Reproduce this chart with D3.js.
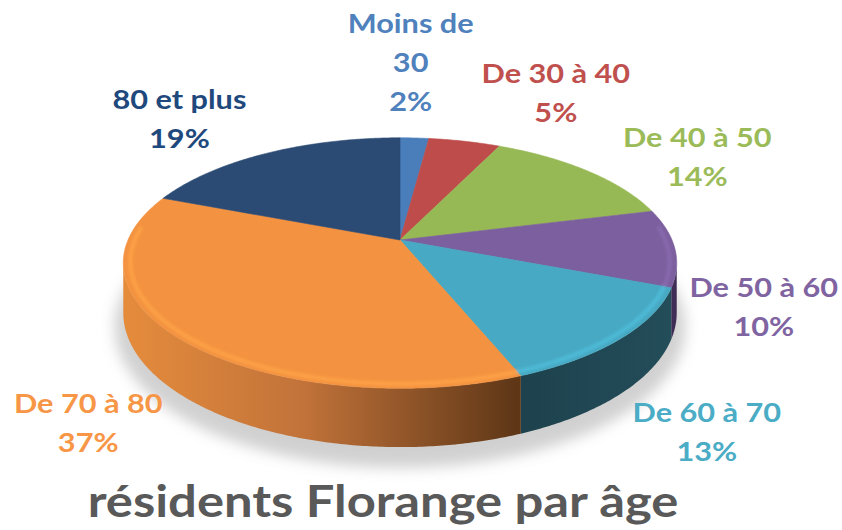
<!DOCTYPE html>
<html>
<head>
<meta charset="utf-8">
<script src="https://cdn.jsdelivr.net/npm/d3@7"></script>
<style>
  body { margin: 0; background: #fff; }
  svg { display: block; }
  .lbl { font-family: Lato, "Open Sans", sans-serif; font-weight: 700; font-size: 26px; }
  .title { font-family: Lato, "Open Sans", sans-serif; font-weight: 700; font-size: 43px; fill: #595959; }
</style>
</head>
<body>
<svg id="MyGraph" width="842" height="530"></svg>
<script>
// données
var categories = ["Moins de 30", "De 30 à 40", "De 40 à 50", "De 50 à 60", "De 60 à 70", "De 70 à 80", "80 et plus"];
var values = [2, 5, 14, 10, 13, 37, 19];
var topColors = ["#4a7ebb", "#bd4c4a", "#97b955", "#7c5f9e", "#47a9c3", "#f39240", "#2b4b74"];
var sideColors = ["#2f5580", "#7d2f2d", "#61793a", "#3f2d55", "#1f4552", "#c97a36", "#1b3150"];
var labelColors = ["#4f81bd", "#c0504d", "#9bbb59", "#8064a2", "#4bacc6", "#f79646", "#1f497d"];
var title = "résidents Florange par âge";

var svg = d3.select("#MyGraph");
var defs = svg.append("defs");

// géométrie du camembert 3D (perspective)
var cx = 400, cy = 240, A = 272, B = 121, k = 0.184, depth = 48;
var sx = 1.18; // étirement horizontal du texte

function proj(theta, r, z) {
  var a = r * Math.sin(theta), b = -r * Math.cos(theta);
  var d = 1 - k * b;
  return [cx + A * a / d, cy + (B * b + (z || 0)) / d];
}

var pie = d3.pie().sort(null).value(function(d){ return d; }).startAngle(0).endAngle(2 * Math.PI);
var arcs = pie(values);
var total = d3.sum(values);
var line = d3.line();

function arcPoints(t0, t1, r, z) {
  var n = Math.max(2, Math.ceil((t1 - t0) / 0.01));
  return d3.range(n + 1).map(function(i){ return proj(t0 + (t1 - t0) * i / n, r, z); });
}

// ombre
defs.append("filter").attr("id", "blur").attr("x", "-20%").attr("y", "-20%").attr("width", "140%").attr("height", "140%")
  .append("feGaussianBlur").attr("stdDeviation", 7);
var shadowPts = arcPoints(0, 2 * Math.PI, 1.03, depth + 12);
svg.append("path")
  .attr("d", line(shadowPts) + "Z")
  .attr("fill", "#8c8c8c").attr("opacity", 0.4)
  .attr("filter", "url(#blur)");

// côtés visibles
var tMin = Math.acos(-k), tMax = 2 * Math.PI - Math.acos(-k);
var orangeGrad = defs.append("linearGradient").attr("id", "sideGrad5")
  .attr("gradientUnits", "userSpaceOnUse").attr("x1", cx - A).attr("x2", cx + 115).attr("y1", 0).attr("y2", 0);
orangeGrad.append("stop").attr("offset", "0%").attr("stop-color", "#e48b3c");
orangeGrad.append("stop").attr("offset", "45%").attr("stop-color", "#c2733a");
orangeGrad.append("stop").attr("offset", "100%").attr("stop-color", "#5f3717");

var blueGrad = defs.append("linearGradient").attr("id", "sideGrad4")
  .attr("gradientUnits", "userSpaceOnUse").attr("x1", cx + 110).attr("x2", cx + A).attr("y1", 0).attr("y2", 0);
blueGrad.append("stop").attr("offset", "0%").attr("stop-color", "#1d414d");
blueGrad.append("stop").attr("offset", "100%").attr("stop-color", "#234d59");

arcs.forEach(function(s, i){
  var t0 = Math.max(s.startAngle, tMin), t1 = Math.min(s.endAngle, tMax);
  if (t1 <= t0) return;
  var topPts = arcPoints(t0, t1, 1, 0);
  var botPts = arcPoints(t0, t1, 1, depth).reverse();
  var fill = sideColors[i];
  if (i === 5) fill = "url(#sideGrad5)";
  if (i === 4) fill = "url(#sideGrad4)";
  svg.append("path")
    .attr("d", line(topPts.concat(botPts)) + "Z")
    .attr("fill", fill);
});

// dessus
arcs.forEach(function(s, i){
  var pts = [proj(0, 0, 0)].concat(arcPoints(s.startAngle, s.endAngle, 1, 0));
  svg.append("path")
    .attr("d", line(pts) + "Z")
    .attr("fill", topColors[i])
    .attr("stroke", topColors[i]).attr("stroke-width", 0.6);
});

// reflet du bord avant
defs.append("filter").attr("id", "soft").append("feGaussianBlur").attr("stdDeviation", 1.6);
var rim = svg.append("g").attr("filter", "url(#soft)").attr("fill", "none");
arcs.forEach(function(s, i){
  var t0 = Math.max(s.startAngle, tMin - 0.3), t1 = Math.min(s.endAngle, tMax + 0.3);
  if (t1 <= t0) return;
  rim.append("path")
    .attr("d", line(arcPoints(t0, t1, 0.975, 0)))
    .attr("stroke", d3.color(topColors[i]).brighter(0.35))
    .attr("stroke-width", 4).attr("opacity", 0.8);
});

// étiquettes
var lineH = 39;
var nudge = [[-9, -3], [65, 3], [37, 20], [-5, 5], [19, 5], [-24, -4], [-39, 10]];

function wrapWords(text, maxW, tmp) {
  var words = text.split(" "), lines = [], cur = "";
  words.forEach(function(w){
    var test = cur ? cur + " " + w : w;
    tmp.text(test);
    if (cur && tmp.node().getComputedTextLength() * sx > maxW) { lines.push(cur); cur = w; }
    else cur = test;
  });
  lines.push(cur);
  return lines;
}

var tmp = svg.append("text").attr("class", "lbl");
arcs.forEach(function(s, i){
  var lines = wrapWords(categories[i], 150, tmp);
  lines.push(Math.round(values[i] / total * 100) + "%");
  var w = d3.max(lines, function(l){ tmp.text(l); return tmp.node().getComputedTextLength() * sx; });
  var h = lines.length * lineH;
  var mid = (s.startAngle + s.endAngle) / 2;
  var e = proj(mid, 1, 0);
  var front = (mid > Math.PI / 2 && mid < 3 * Math.PI / 2) ? 50 : 0;
  var x = e[0] + Math.sin(mid) * (w / 2 + 20) + nudge[i][0];
  var y = e[1] - Math.cos(mid) * (h / 2 + 15) + front + nudge[i][1];
  var g = svg.append("g").attr("transform", "translate(" + x + "," + y + ") scale(" + sx + ",1)");
  g.selectAll("text").data(lines).enter().append("text")
    .attr("class", "lbl")
    .attr("fill", labelColors[i])
    .attr("text-anchor", "middle")
    .attr("dominant-baseline", "central")
    .attr("y", function(d, j){ return (j - (lines.length - 1) / 2) * lineH; })
    .text(function(d){ return d; });
});
tmp.remove();

// titre
svg.append("g").attr("transform", "translate(383,501) scale(" + sx + ",1)")
  .append("text").attr("class", "title")
  .attr("text-anchor", "middle").attr("dominant-baseline", "central")
  .text(title);
</script>
</body>
</html>
